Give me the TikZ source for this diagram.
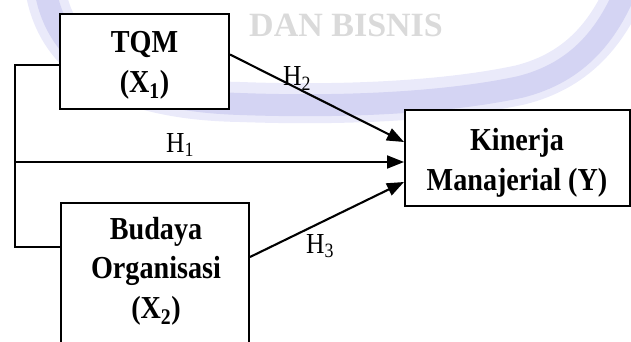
\documentclass[tikz,border=0pt]{standalone}
\usepackage{fontspec}
\setmainfont{Liberation Serif}
\newfontfamily\diagfont[FakeStretch=0.88]{Liberation Serif}
\newfontfamily\markfont{Liberation Serif}
\usetikzlibrary{arrows.meta}

\definecolor{bandblue}{RGB}{212,212,243}
\definecolor{bandglow}{RGB}{234,234,250}
\definecolor{markgray}{RGB}{218,218,218}

\tikzset{
  varbox/.style={draw, line width=2pt, fill=white, inner sep=0pt},
  boxtext/.style={align=center, inner sep=0pt,
    font=\diagfont\bfseries\fontsize{32}{39.5}\selectfont},
  link/.style={line width=2.1pt},
  arr/.style={link, -{Triangle[length=17pt,width=13pt]}},
  hlabel/.style={anchor=base west, inner sep=0pt,
    font=\diagfont\fontsize{29}{34}\selectfont},
  marktext/.style={anchor=base west, inner sep=0pt, text=markgray,
    font=\markfont\bfseries\fontsize{34}{40}\selectfont},
}

\begin{document}
\begin{tikzpicture}[x=1pt,y=-1pt]
\useasboundingbox (0,0) rectangle (631,342);
\begin{scope}
\clip (0,0) rectangle (631,342);

% faint background swoosh and caption
\draw[bandglow, line width=40pt]
  (44,-20) .. controls (52,60) and (120,100) .. (240,102)
  .. controls (350,106) and (450,100) .. (520,85)
  .. controls (580,70) and (610,30) .. (630,-20);
\draw[bandblue, line width=22pt]
  (44,-20) .. controls (52,60) and (120,100) .. (240,104)
  .. controls (350,108) and (450,102) .. (520,87)
  .. controls (580,72) and (610,32) .. (630,-20);
\node[marktext] (mark) at (249,37) {DAN BISNIS};

% variable boxes
\node[varbox, minimum width=169pt, minimum height=95pt] (tqm) at (144.5,61.5) {};
\node[boxtext] (tqmtext) at (144.5,65.5) {TQM\\(X\textsubscript{1})};

\node[varbox, minimum width=188pt, minimum height=142pt] (bud) at (155,274) {};
\node[boxtext] (budtext) at (156,271) {Budaya\\Organisasi\\(X\textsubscript{2})};

\node[varbox, minimum width=225pt, minimum height=96pt] (kin) at (517.5,158) {};
\node[boxtext] (kintext) at (517,163) {Kinerja\\Manajerial (Y)};

% connectors
\coordinate (mid) at (15,162);
\draw[link] ([yshift=-3.5pt]tqm.west) -| (mid) |- ([yshift=27pt]bud.west);
\draw[arr] (mid) -- ([yshift=-4pt]kin.west);
\draw[arr] ([yshift=7pt]tqm.east) -- ([yshift=16pt]kin.west);
\draw[arr] ([yshift=17pt]bud.east) -- ([yshift=-24pt]kin.west);

% hypothesis labels
\node[hlabel] (h1) at (166,152) {H\textsubscript{1}};
\node[hlabel] (h2) at (283,86) {H\textsubscript{2}};
\node[hlabel] (h3) at (306,253) {H\textsubscript{3}};
\end{scope}
\end{tikzpicture}
\end{document}
